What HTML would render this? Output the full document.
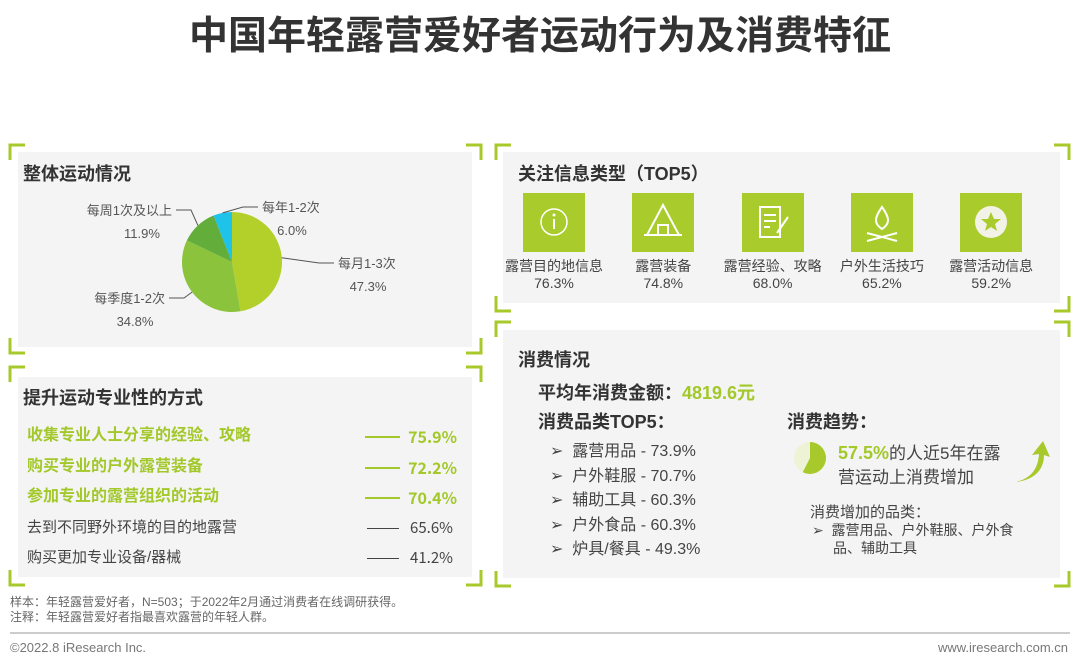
<!DOCTYPE html>
<html><head><meta charset="utf-8">
<style>
body{margin:0;width:1080px;height:668px;background:#fff;position:relative;overflow:hidden;font-family:"Liberation Sans","Noto Sans CJK SC",sans-serif;color:#444}
.a{position:absolute;white-space:nowrap}
.panel{position:absolute;background:#f4f4f4}
.h{font-weight:bold;font-size:18px;color:#333}
.g{color:#a3c82a}
.box{position:absolute;width:62px;height:59px;background:#a9cc2c;top:193px}
.lab{position:absolute;width:110px;text-align:center;font-size:14px;line-height:17px;color:#444;top:258px}
</style></head><body>
<div class="a" style="left:0;width:1080px;text-align:center;top:12px;font-size:39px;line-height:50px;font-weight:bold;color:#333">中国年轻露营爱好者运动行为及消费特征</div>

<div class="panel" style="left:18px;top:152px;width:454px;height:195px"></div>
<div class="panel" style="left:18px;top:377px;width:454px;height:200px"></div>
<div class="panel" style="left:503px;top:152px;width:557px;height:151px"></div>
<div class="panel" style="left:503px;top:330px;width:557px;height:248px"></div>

<svg class="a" style="left:0;top:0" width="1080" height="668">
<g stroke="#a8c92b" stroke-width="3" fill="none">
<path d="M10 160V145H25M466 145H481V160M10 338V353H25M466 353H481V338"/>
<path d="M10 382V367H25M466 367H481V382M10 570V585H25M466 585H481V570"/>
<path d="M496 160V145H511M1054 145H1069V160M496 296V311H511M1054 311H1069V296"/>
<path d="M496 337V322H511M1054 322H1069V337M496 571V586H511M1054 586H1069V571"/>
</g>
<line x1="10" y1="633" x2="1070" y2="633" stroke="#999" stroke-width="1"/>
</svg>

<div class="a h" style="left:23px;top:160px">整体运动情况</div>
<svg class="a" id="pie" style="left:0;top:140px" width="490" height="220"></svg>

<div class="a h" style="left:23px;top:384px">提升运动专业性的方式</div>
<div id="plist"></div>

<div class="a h" style="left:518px;top:160px">关注信息类型（TOP5）</div>
<div id="icons"></div>

<div class="a h" style="left:518px;top:346px">消费情况</div>
<div class="a" style="left:538px;top:379px;font-size:18px;font-weight:bold;color:#333">平均年消费金额：<span class="g">4819.6元</span></div>
<div class="a" style="left:538px;top:408px;font-size:18px;font-weight:bold;color:#333">消费品类TOP5：</div>
<div id="cats"></div>
<div class="a" style="left:787px;top:408px;font-size:18px;font-weight:bold;color:#333">消费趋势：</div>
<svg class="a" id="trendpie" style="left:792px;top:440px" width="36" height="36"></svg>
<div class="a" style="left:838px;top:441px;font-size:17px;line-height:24px;color:#444"><span class="g" style="font-weight:bold;font-size:18px">57.5%</span>的人近5年在露<br>营运动上消费增加</div>
<svg class="a" style="left:1012px;top:440px" width="40" height="44">
<path d="M4 42C20 38 26 28 27 14L20 15L31 1L38 17L32 15C32 30 22 40 4 42Z" fill="#a8c92b"/>
</svg>
<div class="a" style="left:810px;top:501px;font-size:15px;color:#444">消费增加的品类：</div>
<div class="a" style="left:812px;top:521px;font-size:14px;line-height:18px;color:#444">➢&nbsp;&nbsp;露营用品、户外鞋服、户外食<br><span style="padding-left:21px">品、辅助工具</span></div>

<div class="a" style="left:10px;top:595px;font-size:12px;line-height:15px;color:#666">样本：年轻露营爱好者，N=503；于2022年2月通过消费者在线调研获得。<br>注释：年轻露营爱好者指最喜欢露营的年轻人群。</div>
<div class="a" style="left:10px;top:640px;font-size:13px;color:#777">©2022.8 iResearch Inc.</div>
<div class="a" style="right:12px;top:640px;font-size:13px;color:#777">www.iresearch.com.cn</div>

<script>
const pieCats=["每月1-3次","每季度1-2次","每周1次及以上","每年1-2次"];
const pieVals=[47.3,34.8,11.9,6.0];
const pieColors=["#b3d02a","#8bc43c","#63ad3b","#1ec3ea"];
const profLabels=["收集专业人士分享的经验、攻略","购买专业的户外露营装备","参加专业的露营组织的活动","去到不同野外环境的目的地露营","购买更加专业设备/器械"];
const profVals=[75.9,72.2,70.4,65.6,41.2];
const infoLabels=["露营目的地信息","露营装备","露营经验、攻略","户外生活技巧","露营活动信息"];
const infoVals=[76.3,74.8,68.0,65.2,59.2];
const catLabels=["露营用品","户外鞋服","辅助工具","户外食品","炉具/餐具"];
const catVals=[73.9,70.7,60.3,60.3,49.3];
const trendVal=[57.5];

const NS="http://www.w3.org/2000/svg";
const svg=document.getElementById('pie');
const cx=232,cy=122,r=50;
const tot=pieVals.reduce((a,b)=>a+b,0);
let ang=0;
const labPos=[[338,128,"start"],[165,163,"end"],[172,75,"end"],[262,72,"start"]];
pieVals.forEach((v,i)=>{
  const a0=ang, a1=ang+v/tot*2*Math.PI; ang=a1;
  const p=(a)=>[cx+r*Math.sin(a),cy-r*Math.cos(a)];
  const [x0,y0]=p(a0),[x1,y1]=p(a1);
  const path=document.createElementNS(NS,'path');
  path.setAttribute('d',`M${cx} ${cy}L${x0} ${y0}A${r} ${r} 0 ${a1-a0>Math.PI?1:0} 1 ${x1} ${y1}Z`);
  path.setAttribute('fill',pieColors[i]);
  
  
  svg.appendChild(path);
  const mid=(a0+a1)/2;
  const [mx,my]=[cx+r*Math.sin(mid),cy-r*Math.cos(mid)];
  const lp=labPos[i];
  const ex=lp[2]==="start"?lp[0]-4:lp[0]+4;
  const ln=document.createElementNS(NS,'polyline');
  ln.setAttribute('points',`${mx},${my} ${ex+(lp[2]==="start"?-15:15)},${lp[1]-5} ${ex},${lp[1]-5}`);
  ln.setAttribute('stroke','#555');ln.setAttribute('fill','none');ln.setAttribute('stroke-width','1');
  
  
  svg.appendChild(ln);
  const t=document.createElementNS(NS,'text');
  t.setAttribute('x',lp[0]);t.setAttribute('y',lp[1]);t.setAttribute('font-size','13');t.setAttribute('fill','#555');
  t.setAttribute('text-anchor',lp[2]);
  t.textContent=pieCats[i];
  
  
  svg.appendChild(t);
  const t2=document.createElementNS(NS,'text');
  t2.setAttribute('x',lp[2]==="start"?lp[0]+30:lp[0]-30);t2.setAttribute('y',lp[1]+23);t2.setAttribute('font-size','13');t2.setAttribute('fill','#555');
  t2.setAttribute('text-anchor','middle');
  t2.textContent=v.toFixed(1)+'%';
  
  
  svg.appendChild(t2);
});

const tp=document.getElementById('trendpie');
{
  const a1=trendVal[0]/100*2*Math.PI, R=16, c=18;
  const bg=document.createElementNS(NS,'circle');
  bg.setAttribute('cx',c);bg.setAttribute('cy',c);bg.setAttribute('r',R);bg.setAttribute('fill','#eef3d6');
  
  
  tp.appendChild(bg);
  const sl=document.createElementNS(NS,'path');
  sl.setAttribute('d',`M${c} ${c}L${c} ${c-R}A${R} ${R} 0 ${a1>Math.PI?1:0} 1 ${c+R*Math.sin(a1)} ${c-R*Math.cos(a1)}Z`);
  sl.setAttribute('fill','#a8c92b');
  
  
  tp.appendChild(sl);
}

const pl=document.getElementById('plist');
profLabels.forEach((l,i)=>{
  const hi=i<3;
  const y=425+i*30.5;
  const d=document.createElement('div');
  d.className='a';
  
  
  d.style.cssText=`left:27px;top:${y}px;line-height:22px;font-size:${hi?16:15}px;${hi?'font-weight:bold;color:#a3c82a':'color:#444'}`;
  d.textContent=l;pl.appendChild(d);
  const ln=document.createElement('div');
  ln.className='a';
  
  
  ln.style.cssText=`left:${hi?365:367}px;top:${y+11}px;width:${hi?35:32}px;height:${hi?2:1}px;background:${hi?'#a3c82a':'#444'}`;
  pl.appendChild(ln);
  const v=document.createElement('div');
  v.className='a';
  
  
  v.style.cssText=`right:${hi?623:627}px;top:${y}px;line-height:22px;font-family:'Noto Sans CJK SC',sans-serif;font-size:${hi?16:15}px;${hi?'font-weight:bold;color:#a3c82a':'color:#444'}`;
  v.textContent=profVals[i].toFixed(1)+'%';pl.appendChild(v);
});

const icons=[
 '<circle cx="31" cy="29" r="13" fill="none" stroke="#fff" stroke-width="1.5"/><line x1="31" y1="26" x2="31" y2="36" stroke="#fff" stroke-width="2"/><circle cx="31" cy="22" r="1.5" fill="#fff"/>',
 '<path d="M31 12L15 42H47Z M26 42V32H36V42 M12 42H50" fill="none" stroke="#fff" stroke-width="2"/>',
 '<path d="M18 14H38V44H18Z M22 22H34M22 28H34M22 34H28 M35 40L46 24" fill="none" stroke="#fff" stroke-width="2"/>',
 '<path d="M31 14C24 24 22 30 31 36C40 30 38 24 31 14Z M16 40L46 48M46 40L16 48" fill="none" stroke="#fff" stroke-width="2"/>',
 '<circle cx="31" cy="29" r="16" fill="#f2f2e6"/><path d="M31 19L34 26H41L35 31L37 38L31 34L25 38L27 31L21 26H28Z" fill="#a9cc2c"/>'
];
const ic=document.getElementById('icons');
infoLabels.forEach((l,i)=>{
  const cxp=554+i*109.3;
  const b=document.createElement('div');
  b.className='box';
  
  
  b.style.left=(cxp-31)+'px';
  b.innerHTML='<svg width="62" height="59">'+icons[i]+'</svg>';
  ic.appendChild(b);
  const t=document.createElement('div');
  t.className='lab';
  
  
  t.style.left=(cxp-55)+'px';
  t.innerHTML=l+'<br>'+infoVals[i].toFixed(1)+'%';
  ic.appendChild(t);
});

const cs=document.getElementById('cats');
catLabels.forEach((l,i)=>{
  const d=document.createElement('div');
  d.className='a';
  
  
  d.style.cssText=`left:550px;top:${437+i*24.5}px;font-size:16px;color:#444`;
  d.innerHTML='➢&nbsp;&nbsp;'+l+' - '+catVals[i].toFixed(1)+'%';
  cs.appendChild(d);
});
</script>
</body></html>
